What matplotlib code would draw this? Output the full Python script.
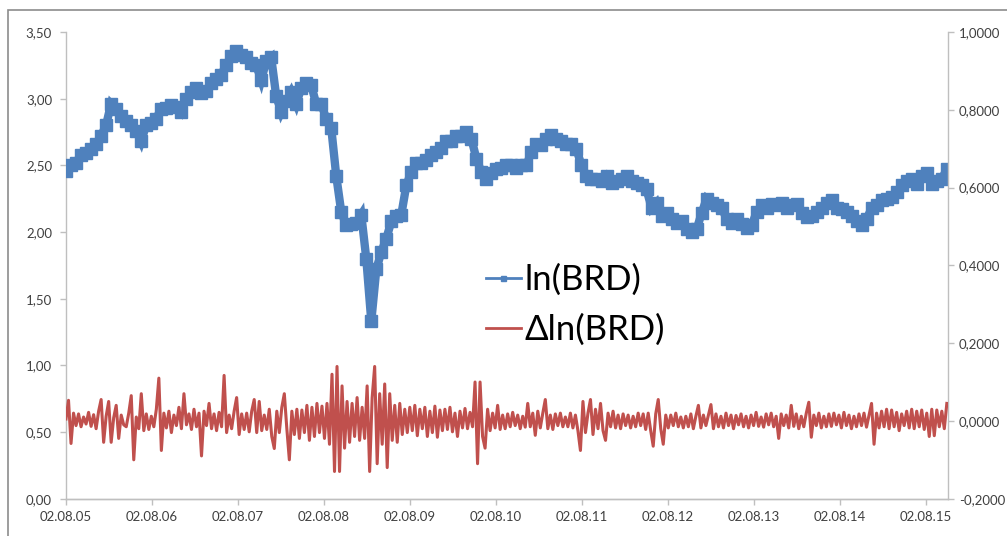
import numpy as np
import pandas as pd
import matplotlib
matplotlib.use("Agg")
import matplotlib.pyplot as plt
import matplotlib.dates as mdates
from matplotlib.ticker import FuncFormatter, MultipleLocator
from matplotlib.patches import Rectangle

plt.rcParams['font.family'] = ['Lato', 'DejaVu Sans']

# ---- data ----
start_date = "2005-08-02"
end_date = "2015-10-30"
tick_dates = ["2005-08-02", "2006-08-02", "2007-08-02", "2008-08-02", "2009-08-02",
              "2010-08-02", "2011-08-02", "2012-08-02", "2013-08-02", "2014-08-02",
              "2015-08-02"]

ln_brd = [2.46, 2.50, 2.52, 2.58, 2.59, 2.62, 2.66, 2.72, 2.80, 2.96,
          2.92, 2.87, 2.83, 2.80, 2.76, 2.68, 2.80, 2.82, 2.85, 2.92,
          2.93, 2.95, 2.94, 2.90, 3.00, 3.05, 3.08, 3.04, 3.06, 3.12,
          3.15, 3.18, 3.25, 3.32, 3.36, 3.33, 3.31, 3.27, 3.25, 3.14,
          3.28, 3.31, 3.02, 2.90, 2.98, 3.05, 2.96, 3.08, 3.12, 3.10,
          2.96, 2.96, 2.85, 2.78, 2.42, 2.15, 2.05, 2.06, 2.07, 2.13,
          1.80, 1.33, 1.72, 1.85, 1.95, 2.08, 2.12, 2.13, 2.35, 2.45,
          2.52, 2.52, 2.54, 2.58, 2.60, 2.63, 2.68, 2.68, 2.72, 2.72,
          2.75, 2.70, 2.55, 2.45, 2.40, 2.44, 2.47, 2.48, 2.50, 2.50,
          2.48, 2.50, 2.50, 2.60, 2.66, 2.65, 2.70, 2.73, 2.70, 2.68,
          2.66, 2.66, 2.62, 2.50, 2.42, 2.40, 2.40, 2.38, 2.42, 2.37,
          2.38, 2.40, 2.42, 2.38, 2.37, 2.35, 2.32, 2.18, 2.22, 2.12,
          2.14, 2.10, 2.07, 2.08, 2.02, 2.00, 2.02, 2.14, 2.25, 2.22,
          2.20, 2.18, 2.10, 2.07, 2.10, 2.06, 2.03, 2.05, 2.15, 2.20,
          2.18, 2.21, 2.20, 2.22, 2.18, 2.20, 2.21, 2.14, 2.11, 2.12,
          2.15, 2.18, 2.22, 2.24, 2.18, 2.17, 2.15, 2.12, 2.08, 2.05,
          2.10, 2.18, 2.20, 2.24, 2.25, 2.26, 2.30, 2.35, 2.38, 2.40,
          2.36, 2.42, 2.44, 2.36, 2.38, 2.40, 2.47]

# delta ln(BRD), in thousandths
d_ln_brd_milli = [
    5, 53, -58, 20, -12, 18, -15, 10,
    -8, 22, -14, 16, -20, 25, 55, -55,
    12, 50, -55, 8, 40, -45, 15, -10,
    -15, 20, 65, -100, 10, -20, 70, -25,
    18, -22, 12, -15, 30, 110, -76, 20,
    -18, 25, -30, 15, -12, 35, -20, 70,
    -10, 18, -22, 30, -15, 20, -90, 25,
    -12, 45, -20, 18, -25, 22, -15, 117,
    -30, 15, -20, 25, 60, -35, 18, -22,
    20, -28, 25, 55, -30, 50, -25, 15,
    -22, 30, -40, -71, 25, -30, 35, 70,
    -20, -100, 25, -35, 30, -45, 28, -30,
    40, -50, 35, -40, 45, -30, 38, -45,
    45, -60, 120, -130, 140, -130, 90, -70,
    50, -55, 45, -40, 60, -50, 35, -45,
    90, -130, 60, 140, -110, 70, -60, 95,
    -120, 70, -50, 40, -55, 45, -35, 30,
    -30, 35, -25, 40, -38, 30, -20, 35,
    -40, 25, -30, 38, -42, 28, -25, 30,
    -22, 35, -28, 20, -40, 25, -18, 32,
    -20, 22, -15, 100, -110, 100, -40, -70,
    30, -25, 20, -18, 40, -22, 15, -20,
    18, -15, 22, -12, 15, -20, 12, -16,
    45, -15, 20, -37, 25, -18, 20, 55,
    -20, 15, -22, 18, -12, 20, -15, 10,
    -15, 20, -18, 15, -25, -76, 50, -30,
    20, 55, -35, 30, -20, 45, -25, -50,
    20, -15, 25, -18, 15, -20, 18, -12,
    15, -18, 12, -15, 20, -12, 18, -22,
    20, -25, -65, 18, 55, -20, -60, 15,
    -18, 15, -12, 20, -15, 10, -18, 12,
    -15, 18, -20, 12, 40, -18, 15, -12,
    15, 42, -20, 18, -15, 12, -18, 20,
    -12, 15, -20, 14, -10, 18, -15, 12,
    -18, 15, -12, 22, -14, 10, -16, 18,
    -10, 20, -15, 12, -45, 18, -12, 15,
    -18, 40, -14, 18, -20, 12, -15, 20,
    48, -42, 15, -12, 20, -18, 12, -15,
    18, -14, 20, -10, 15, -18, 22, -12,
    15, -20, 12, -15, 18, -12, 20, -16,
    15, 45, -60, 20, -18, 25, -15, 30,
    -20, 28, -15, 22, -25, 18, -12, 25,
    -18, 30, -20, 25, -15, 28, -22, 20,
    -40, 30, -38, 28, -15, 25, -20, 45,
]

labels = ["ln(BRD)", "\u0394ln(BRD)"]
colors = ["#4F81BD", "#C0504D"]

# ---- figure ----
W, H = 1007, 536
fig = plt.figure(figsize=(W / 100, H / 100), dpi=100)
fig.patch.set_facecolor("white")
fig.patches.append(Rectangle((8 / W, -0.05), 1.2, 1 - 10 / H + 0.05,
                             transform=fig.transFigure, fill=False,
                             edgecolor="#8C8C8C", linewidth=1.2))

ax = fig.add_axes([66 / W, 1 - 498.7 / H, 882 / W, 466.7 / H])
ax2 = ax.twinx()

t0 = pd.Timestamp(start_date)
t1 = pd.Timestamp(end_date)
x_blue = pd.to_datetime(np.linspace(t0.value, t1.value, len(ln_brd)))
x_red = pd.to_datetime(np.linspace(t0.value, t1.value, len(d_ln_brd_milli)))
d_ln_brd = np.array(d_ln_brd_milli) / 1000.0

l1, = ax.plot(x_blue, ln_brd, color=colors[0], lw=6, marker="s", ms=9,
              mec=colors[0], mfc=colors[0], label=labels[0], zorder=3,
              solid_joinstyle="miter")
l2, = ax2.plot(x_red, d_ln_brd, color=colors[1], lw=2.2, label=labels[1], zorder=3)

ax.set_ylim(0, 3.5)
ax2.set_ylim(-0.2, 1.0)
ax.set_xlim(t0, t1 + pd.Timedelta(days=5))
ax.yaxis.set_major_locator(MultipleLocator(0.5))
ax2.yaxis.set_major_locator(MultipleLocator(0.2))
ax.yaxis.set_major_formatter(FuncFormatter(lambda v, p: f"{v:.2f}".replace(".", ",")))
ax2.yaxis.set_major_formatter(FuncFormatter(lambda v, p: f"{v:.4f}".replace(".", ",") if abs(v) > 1e-9 else "0,0000"))
ax.set_xticks(pd.to_datetime(tick_dates))
ax.xaxis.set_major_formatter(mdates.DateFormatter("%d.%m.%y"))

grey = "#BFBFBF"
for a in (ax, ax2):
    a.spines["top"].set_visible(False)
    for s in ("left", "right", "bottom"):
        a.spines[s].set_color(grey)
        a.spines[s].set_linewidth(1)
    a.tick_params(axis="both", colors=grey, labelcolor="#404040", labelsize=9.5,
                  length=4, width=1, direction="out")
ax2.spines["left"].set_visible(False)
ax.spines["right"].set_visible(False)
ax.tick_params(axis="y", pad=6)
ax2.tick_params(axis="y", pad=4)
ax.tick_params(axis="x", pad=5)
ax.set_facecolor("none")

leg = ax2.legend(handles=[l1, l2], loc="upper left",
                 bbox_to_anchor=(472 / W, 1 - 250 / H), bbox_transform=fig.transFigure,
                 frameon=False, fontsize=25, handlelength=1.0, handletextpad=0.12,
                 labelspacing=0.5, borderaxespad=0, markerscale=0.4)
for line in leg.get_lines():
    line.set_linewidth(2)
for t in leg.get_texts():
    t.set_color("#000000")

fig.savefig("out.png", dpi=100, facecolor="white")
